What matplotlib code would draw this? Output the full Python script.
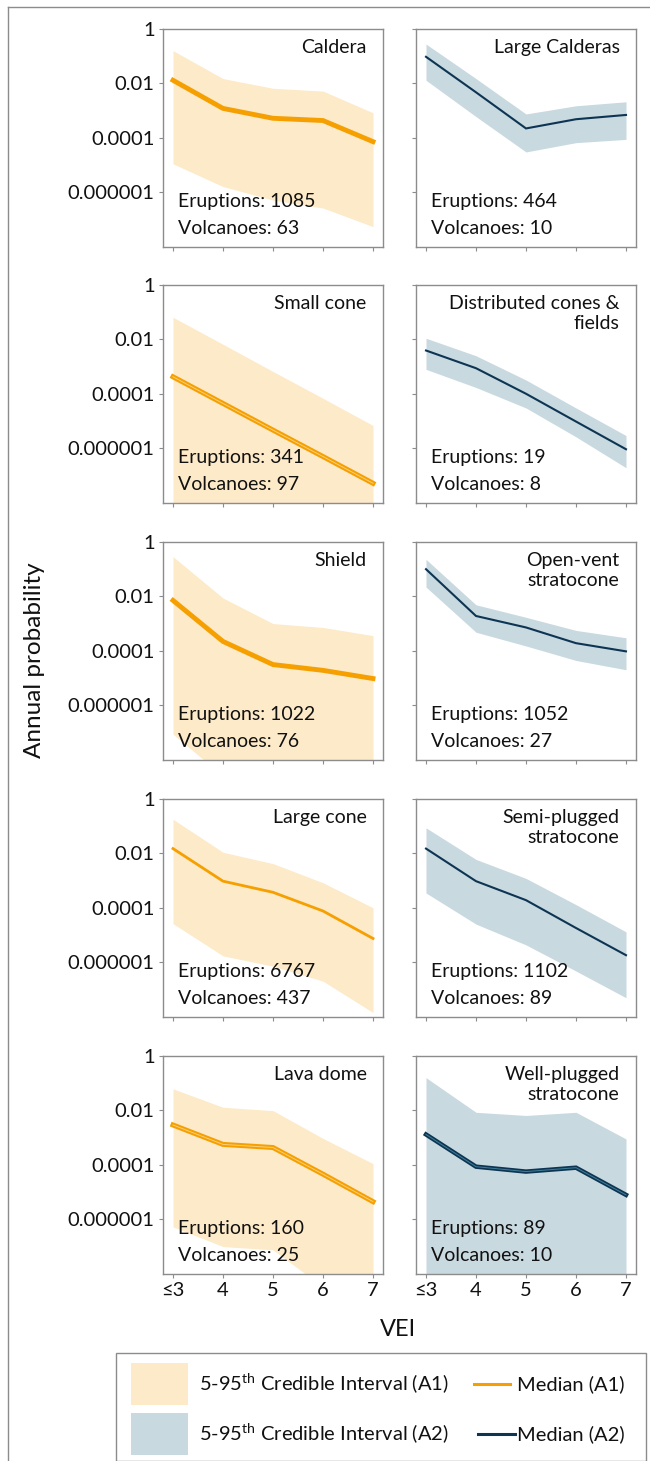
import matplotlib
matplotlib.use("Agg")
import matplotlib.pyplot as plt
from matplotlib.patches import Rectangle
from matplotlib.lines import Line2D

plt.rcParams['font.family'] = ['Lato', 'DejaVu Sans']
plt.rcParams['mathtext.fontset'] = 'custom'
plt.rcParams['mathtext.rm'] = 'Lato'

vei_labels = ["≤3", "4", "5", "6", "7"]

# left column (A1)
caldera_med = [1.3e-2, 1.2e-3, 5.2e-4, 4.3e-4, 7.2e-5]
caldera_hi = [1.6e-1, 1.5e-2, 6.6e-3, 5.2e-3, 8.3e-4]
caldera_lo = [1.1e-5, 1.6e-6, 5.1e-7, 2.6e-7, 5.4e-8]

small_cone_med = [4.2e-4, 4.4e-5, 4.6e-6, 4.9e-7, 5.1e-8]
small_cone_hi = [6.5e-2, 6.6e-3, 6.6e-4, 6.8e-5, 6.8e-6]
small_cone_lo = [1e-9, 1e-9, 1e-9, 1e-9, 1e-9]

shield_med = [7.1e-3, 2.2e-4, 3.1e-5, 1.9e-5, 9.5e-6]
shield_hi = [2.9e-1, 8.7e-3, 1.0e-3, 7.2e-4, 3.6e-4]
shield_lo = [8.5e-8, 2.5e-9, 1e-9, 1e-9, 1e-9]

large_cone_med = [1.5e-2, 9.5e-4, 3.7e-4, 7.6e-5, 7.4e-6]
large_cone_hi = [1.8e-1, 1.1e-2, 4.2e-3, 8.3e-4, 1.0e-4]
large_cone_lo = [2.6e-5, 1.7e-6, 7.1e-7, 2.0e-7, 1.4e-8]

lava_dome_med = [2.9e-3, 5.6e-4, 4.3e-4, 4.5e-5, 4.4e-6]
lava_dome_hi = [6.2e-2, 1.3e-2, 9.8e-3, 9.3e-4, 1.1e-4]
lava_dome_lo = [5.2e-7, 9.8e-8, 7.4e-8, 3.2e-9, 1e-9]

# right column (A2)
large_calderas_med = [9.5e-2, 4.7e-3, 2.2e-4, 4.8e-4, 6.9e-4]
large_calderas_hi = [2.8e-1, 1.5e-2, 7.5e-4, 1.5e-3, 2.1e-3]
large_calderas_lo = [1.3e-2, 6.0e-4, 3.0e-5, 6.6e-5, 8.7e-5]

distributed_med = [3.9e-3, 8.7e-4, 1.0e-4, 9.5e-6, 9.1e-7]
distributed_hi = [1.1e-2, 2.5e-3, 3.2e-4, 3.0e-5, 2.9e-6]
distributed_lo = [7.9e-4, 1.7e-4, 3.0e-5, 2.6e-6, 1.9e-7]

open_vent_med = [1.0e-1, 1.9e-3, 7.2e-4, 1.9e-4, 9.5e-5]
open_vent_hi = [2.3e-1, 4.9e-3, 1.7e-3, 5.6e-4, 3.0e-4]
open_vent_lo = [2.2e-2, 4.8e-4, 1.5e-4, 4.4e-5, 2.0e-5]

semi_plugged_med = [1.5e-2, 9.5e-4, 1.9e-4, 1.8e-5, 1.8e-6]
semi_plugged_hi = [8.7e-2, 6.0e-3, 1.2e-3, 1.3e-4, 1.3e-5]
semi_plugged_lo = [3.5e-4, 2.5e-5, 4.3e-6, 4.7e-7, 4.9e-8]

well_plugged_med = [1.3e-3, 8.5e-5, 5.6e-5, 7.8e-5, 7.8e-6]
well_plugged_hi = [1.6e-1, 8.5e-3, 6.5e-3, 8.5e-3, 8.9e-4]
well_plugged_lo = [1e-9, 1e-9, 1e-9, 1e-9, 1e-9]

left_names = ["Caldera", "Small cone", "Shield", "Large cone", "Lava dome"]
left_eruptions = [1085, 341, 1022, 6767, 160]
left_volcanoes = [63, 97, 76, 437, 25]
right_names = ["Large Calderas", "Distributed cones &\nfields", "Open-vent\nstratocone",
               "Semi-plugged\nstratocone", "Well-plugged\nstratocone"]
right_eruptions = [464, 19, 1052, 1102, 89]
right_volcanoes = [10, 8, 27, 89, 10]

left_data = [(caldera_med, caldera_hi, caldera_lo),
             (small_cone_med, small_cone_hi, small_cone_lo),
             (shield_med, shield_hi, shield_lo),
             (large_cone_med, large_cone_hi, large_cone_lo),
             (lava_dome_med, lava_dome_hi, lava_dome_lo)]
right_data = [(large_calderas_med, large_calderas_hi, large_calderas_lo),
              (distributed_med, distributed_hi, distributed_lo),
              (open_vent_med, open_vent_hi, open_vent_lo),
              (semi_plugged_med, semi_plugged_hi, semi_plugged_lo),
              (well_plugged_med, well_plugged_hi, well_plugged_lo)]

# median line width, and whether the run bundle shows a light seam down the middle
left_lw = [3.5, 3.6, 3.5, 2.0, 3.6]
left_seam = [False, True, False, False, True]
right_lw = [1.5, 1.5, 1.5, 1.5, 3.2]
right_seam = [False, False, False, False, True]

fill_a1 = "#fdeac8"
line_a1 = "#f5a000"
seam_a1 = "#fbcf7a"
fill_a2 = "#c9d9e0"
line_a2 = "#0d3553"
seam_a2 = "#3f7f98"
edge = "#8c8c8c"
txt = "#111111"
fs = 14

W, H = 650, 1461
fig = plt.figure(figsize=(W / 100, H / 100), dpi=100)

row_tops = [29, 285, 542, 799, 1056]
panel_h = 217.5
col_lefts = [163, 416]
panel_w = 220


def draw_panel(ax, med, hi, lo, name, n_erupt, n_volc, fill, line, seam_color, lw, seam,
               first_col, last_row):
    x = list(range(5))
    ax.fill_between(x, lo, hi, color=fill, lw=0)
    ax.plot(x, med, color=line, lw=lw, solid_joinstyle="miter")
    if seam:
        ax.plot(x, med, color=seam_color, lw=0.7, solid_joinstyle="miter")
    ax.set_yscale("log")
    ax.set_ylim(1e-8, 1)
    ax.set_xlim(-0.2, 4.2)
    ax.set_yticks([1, 1e-2, 1e-4, 1e-6])
    ax.minorticks_off()
    if first_col:
        ax.set_yticklabels(["1", "0.01", "0.0001", "0.000001"])
    else:
        ax.set_yticklabels([])
    ax.set_xticks(x)
    if last_row:
        ax.set_xticklabels(vei_labels)
    else:
        ax.set_xticklabels([])
    ax.tick_params(direction="out", length=3, width=0.8, color=edge,
                   labelsize=14.5, pad=3, labelcolor=txt)
    for s in ax.spines.values():
        s.set_color(edge)
        s.set_linewidth(1.0)
    ax.text(0.925, 0.955, name, transform=ax.transAxes, ha="right", va="top",
            fontsize=fs, color=txt, linespacing=1.25)
    ax.text(0.068, 0.18, f"Eruptions: {n_erupt}", transform=ax.transAxes,
            ha="left", va="baseline", fontsize=fs, color=txt)
    ax.text(0.068, 0.058, f"Volcanoes: {n_volc}", transform=ax.transAxes,
            ha="left", va="baseline", fontsize=fs, color=txt)


for i in range(5):
    bottom = 1 - (row_tops[i] + panel_h) / H
    for j in range(2):
        ax = fig.add_axes([col_lefts[j] / W, bottom, panel_w / W, panel_h / H])
        if j == 0:
            med, hi, lo = left_data[i]
            draw_panel(ax, med, hi, lo, left_names[i], left_eruptions[i], left_volcanoes[i],
                       fill_a1, line_a1, seam_a1, left_lw[i], left_seam[i], True, i == 4)
        else:
            med, hi, lo = right_data[i]
            draw_panel(ax, med, hi, lo, right_names[i], right_eruptions[i], right_volcanoes[i],
                       fill_a2, line_a2, seam_a2, right_lw[i], right_seam[i], False, i == 4)

fig.text(35 / W, 1 - 660 / H, "Annual probability", rotation=90, ha="center", va="center",
         fontsize=17.5, color=txt)
fig.text(398 / W, 1 - 1330 / H, "VEI", ha="center", va="center", fontsize=17, color=txt)

# outer frame
fig.add_artist(Line2D([8 / W, 8 / W], [0, 1 - 7 / H], color=edge, lw=1))
fig.add_artist(Line2D([8 / W, 1], [1 - 7 / H, 1 - 7 / H], color=edge, lw=1))

# legend
fig.add_artist(Rectangle((116 / W, 0), 530 / W, 1 - 1353 / H, fill=False, ec=edge, lw=1))
fig.add_artist(Rectangle((131 / W, 1 - 1405 / H), 57 / W, 42 / H, fc=fill_a1, ec="none"))
fig.add_artist(Rectangle((131 / W, 1 - 1455 / H), 57 / W, 42 / H, fc=fill_a2, ec="none"))
fig.text(199 / W, 1 - 1384 / H, "5-95$^{\\mathrm{th}}$ Credible Interval (A1)", ha="left",
         va="center", fontsize=14.5, color=txt)
fig.text(199 / W, 1 - 1434 / H, "5-95$^{\\mathrm{th}}$ Credible Interval (A2)", ha="left",
         va="center", fontsize=14.5, color=txt)
fig.add_artist(Line2D([474 / W, 510 / W], [1 - 1384 / H] * 2, color=line_a1, lw=2.2))
fig.add_artist(Line2D([478 / W, 515 / W], [1 - 1434 / H] * 2, color=line_a2, lw=2.2))
fig.text(517 / W, 1 - 1384 / H, "Median (A1)", ha="left", va="center", fontsize=14.5,
         color=txt)
fig.text(517 / W, 1 - 1434 / H, "Median (A2)", ha="left", va="center", fontsize=14.5,
         color=txt)

fig.savefig("out.png", dpi=100)
